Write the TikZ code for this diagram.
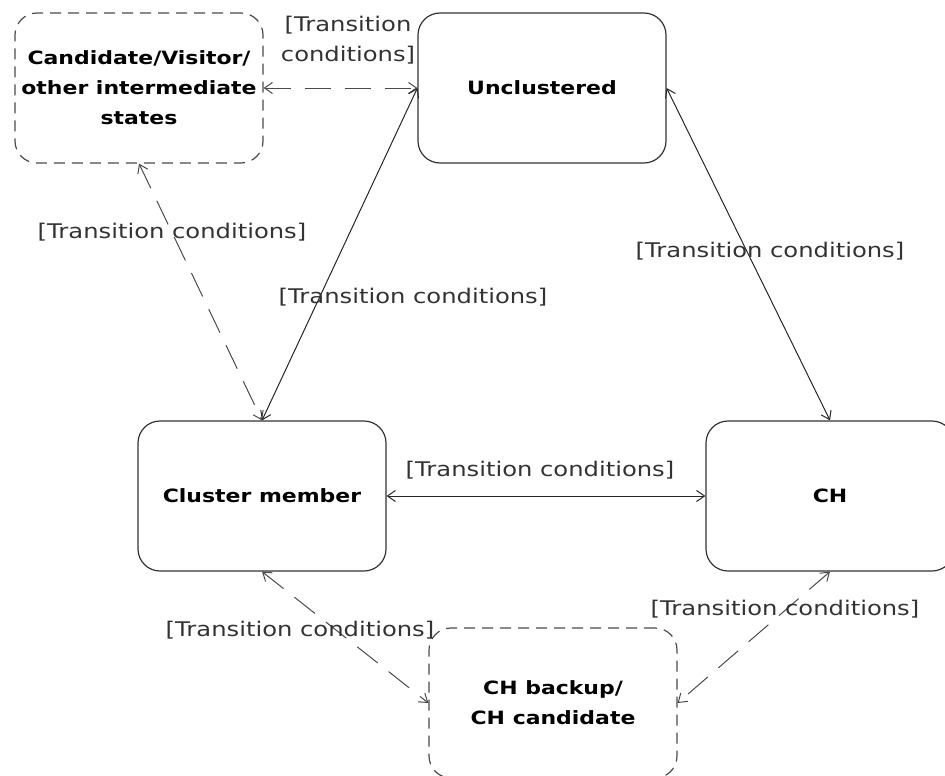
\documentclass[tikz,border=0pt]{standalone}
\usepackage{fontspec}
\setmainfont{DejaVu Sans}
\newfontfamily\widefont[FakeStretch=1.2]{DejaVu Sans}
\usetikzlibrary{arrows.meta}
\definecolor{lblgray}{HTML}{333333}
\definecolor{dashgray}{HTML}{4A4A4A}
\begin{document}
\begin{tikzpicture}[x=1pt,y=-1pt,
  state/.style={draw=black!80,line width=1.2pt,rounded corners=22pt,minimum width=248pt,minimum height=150pt,align=center,font=\widefont\fontsize{18.3}{30}\selectfont\bfseries,inner sep=0pt},
  dstate/.style={state,draw=dashgray,dash pattern=on 11pt off 7pt},
  conn/.style={line width=1pt,draw=black!85,{Straight Barb[length=8pt,width=11pt]}-{Straight Barb[length=8pt,width=11pt]}},
  dconn/.style={conn,draw=dashgray,dash pattern=on 26pt off 14pt},
  lbl/.style={font=\widefont\fontsize{20.2}{30}\selectfont,text=lblgray,inner sep=0pt,align=center}]
\useasboundingbox (0,0) rectangle (945,776);
\begin{scope}
\clip (0,0) rectangle (945,776);
\node[dstate] (cand) at (139,88) {Candidate/Visitor/\\other intermediate\\states};
\node[state] (unc) at (542,88) {Unclustered};
\node[state] (cm) at (262,496) {Cluster member};
\node[state] (ch) at (830,496) {CH};
\node[dstate] (bk) at (553,703) {CH backup/\\CH candidate};
\end{scope}
\draw[dconn] (cand.east) -- (unc.west);
\draw[conn] (unc.west) -- (cm.north);
\draw[conn] (unc.east) -- (ch.north);
\draw[dconn] (cand.south) -- (cm.north);
\draw[conn] (cm.east) -- (ch.west);
\draw[dconn] (cm.south) -- (bk.west);
\draw[dconn] (ch.south) -- (bk.east);
\node[lbl] (l1) at (348,40) {[Transition\\conditions]};
\node[lbl] (l2) at (413,297) {[Transition conditions]};
\node[lbl] (l3) at (770,251) {[Transition conditions]};
\node[lbl] (l4) at (172,232) {[Transition conditions]};
\node[lbl] (l5) at (540,470) {[Transition conditions]};
\node[lbl] (l6) at (300,630) {[Transition conditions]};
\node[lbl] (l7) at (785,609) {[Transition conditions]};
\end{tikzpicture}
\end{document}
